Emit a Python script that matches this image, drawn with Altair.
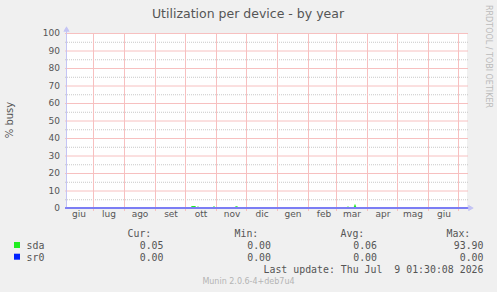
import altair as alt
import pandas as pd

# ---------------- data ----------------
title_text = "Utilization per device - by year"
y_title = "% busy"
watermark = "RRDTOOL / TOBI OETIKER"
version_text = "Munin 2.0.6-4+deb7u4"
last_update = "Last update:\u00a0Thu\u00a0Jul\u00a0\u00a09\u00a001:30:08\u00a02026"

x_start = (2025, 6, 4)
x_end = (2026, 7, 9)

month_names = ["giu", "lug", "ago", "set", "ott", "nov", "dic",
               "gen", "feb", "mar", "apr", "mag", "giu"]
month_label_dates = ["2025-06-16", "2025-07-16", "2025-08-16", "2025-09-16",
                     "2025-10-16", "2025-11-16", "2025-12-16", "2026-01-16",
                     "2026-02-16", "2026-03-16", "2026-04-16", "2026-05-16",
                     "2026-06-16"]
month_starts = ["2025-07-01", "2025-08-01", "2025-09-01", "2025-10-01",
                "2025-11-01", "2025-12-01", "2026-01-01", "2026-02-01",
                "2026-03-01", "2026-04-01", "2026-05-01", "2026-06-01",
                "2026-07-01"]
major_y = [0, 10, 20, 30, 40, 50, 60, 70, 80, 90, 100]
minor_y = [5, 15, 25, 35, 45, 55, 65, 75, 85, 95]

sda_dates = ["2025-06-04", "2025-10-06", "2025-10-07", "2025-10-10",
             "2025-10-11", "2025-10-12", "2025-10-13", "2025-10-14",
             "2025-10-28", "2025-10-29", "2025-10-30", "2025-11-19",
             "2025-11-20", "2025-11-21", "2025-11-22", "2026-03-11",
             "2026-03-12", "2026-03-13", "2026-03-18", "2026-03-19",
             "2026-03-20", "2026-07-09"]
sda_values = [0, 0, 0.8, 0.8, 0, 0, 0.5, 0, 0, 0.6, 0, 0, 0.6, 0.6, 0,
              0, 0.5, 0, 0, 1.5, 0, 0]
sr0_dates = ["2025-06-04", "2026-07-09"]
sr0_values = [0, 0]

series_names = ["sda", "sr0"]
series_colors = ["#22EE22", "#0022FF"]
cur_vals = [0.05, 0.00]
min_vals = [0.00, 0.00]
avg_vals = [0.06, 0.00]
max_vals = [93.90, 0.00]

# ---------------- styling ----------------
TXT = "#555555"
SANS = "DejaVu Sans"
MONO = "DejaVu Sans Mono"
RED = "#F7C0C0"
GREY = "#C8C8C8"
AXIS = "#C4C4F4"


def dt(t):
    return alt.DateTime(year=t[0], month=t[1], date=t[2], utc=True)


x_scale = alt.Scale(type="utc", domain=[dt(x_start), dt(x_end)])
y_scale = alt.Scale(domain=[0, 100], nice=False)

# grid
minor_df = pd.DataFrame({"v": minor_y})
major_df = pd.DataFrame({"v": major_y})
month_df0 = pd.DataFrame({"date": month_starts})

minor_grid = alt.Chart(minor_df).mark_rule(stroke=GREY, strokeWidth=1, yOffset=0.5,
                                           strokeDash=[1, 1], opacity=1).encode(
    y=alt.Y("v:Q", scale=y_scale, axis=None),
    x=alt.value(-2), x2=alt.value(401))
major_grid = alt.Chart(major_df).mark_rule(stroke=RED, strokeWidth=1, yOffset=0.5,
                                           opacity=1).encode(
    y=alt.Y("v:Q", scale=y_scale, axis=None),
    x=alt.value(-2), x2=alt.value(401))
vert_grid = alt.Chart(month_df0).mark_rule(stroke=RED, strokeWidth=1, xOffset=-0.5,
                                           opacity=1).encode(
    x=alt.X("date:T", scale=x_scale, axis=None),
    y=alt.value(0), y2=alt.value(178))

y_labels = alt.Chart(major_df).mark_text(
    font=SANS, fontSize=9, color=TXT, align="right", baseline="middle"
).encode(y=alt.Y("v:Q", scale=y_scale, axis=None), x=alt.value(-7),
         text="v:Q")

axis_line = alt.Chart(major_df).mark_rule(stroke=AXIS, strokeWidth=1).encode(
    x=alt.value(-0.5), y=alt.value(-3), y2=alt.value(175))

sda_df = pd.DataFrame({"date": sda_dates, "value": sda_values})
sr0_df = pd.DataFrame({"date": sr0_dates, "value": sr0_values})

sda_line = alt.Chart(sda_df).mark_line(color=series_colors[0], strokeWidth=1.2,
                                       interpolate="linear").encode(
    x=alt.X("date:T", scale=x_scale, axis=None),
    y=alt.Y("value:Q", scale=y_scale, axis=None),
)
sr0_line = alt.Chart(sr0_df).mark_line(color="#7C7CF6", strokeWidth=1.5).encode(
    x=alt.X("date:T", scale=x_scale, axis=None),
    y=alt.Y("value:Q", scale=y_scale, axis=None),
)
bottom_ext = alt.Chart(sr0_df).mark_rule(stroke="#7C7CF6", strokeWidth=1.5).encode(
    x=alt.value(-2), x2=alt.value(402), y=alt.value(175))

month_df = pd.DataFrame({"date": month_label_dates, "label": month_names})
month_text = alt.Chart(month_df).mark_text(
    font=SANS, fontSize=9, color=TXT, align="center", baseline="alphabetic"
).encode(x=alt.X("date:T", scale=x_scale, axis=None), y=alt.value(184),
         text="label:N")

arrow_up = alt.Chart(sr0_df).mark_point(shape="triangle-up", filled=True,
                                        color=AXIS, size=35, opacity=1).encode(
    x=alt.value(-0.5), y=alt.value(-4))
arrow_right = alt.Chart(sr0_df).mark_point(shape="triangle-right", filled=True,
                                           color=AXIS, size=35, opacity=1).encode(
    x=alt.value(404), y=alt.value(175))

texts_df = pd.DataFrame({"title": [title_text], "ytitle": [y_title],
                         "wm": [watermark], "ver": [version_text],
                         "upd": [last_update]})
title_mark = alt.Chart(texts_df).mark_text(
    font=SANS, fontSize=12.5, color=TXT, align="center", baseline="alphabetic"
).encode(x=alt.value(181), y=alt.value(-15), text="title:N")
ytitle_mark = alt.Chart(texts_df).mark_text(
    font=SANS, fontSize=10, color=TXT, align="center", baseline="middle", angle=270
).encode(x=alt.value(-57), y=alt.value(87), text="ytitle:N")
wm_mark = alt.Chart(texts_df).mark_text(
    font=SANS, fontSize=8, color="#BBBBBB", align="left", baseline="middle", angle=90
).encode(x=alt.value(421), y=alt.value(-28), text="wm:N")
ver_mark = alt.Chart(texts_df).mark_text(
    font=SANS, fontSize=8, color="#B4B4B4", align="center", baseline="alphabetic"
).encode(x=alt.value(181.5), y=alt.value(251), text="ver:N")
upd_mark = alt.Chart(texts_df).mark_text(
    font=MONO, fontSize=9.9, color=TXT, align="right", baseline="alphabetic"
).encode(x=alt.value(416.5), y=alt.value(240), text="upd:N")

# legend header
headers = ["Cur:", "Min:", "Avg:", "Max:"]
header_x = [60.5, 167.5, 273.5, 379.5]
header_layers = []
for h, hx in zip(headers, header_x):
    hdf = pd.DataFrame({"h": [h]})
    header_layers.append(alt.Chart(hdf).mark_text(
        font=MONO, fontSize=9.9, color=TXT, align="left", baseline="alphabetic"
    ).encode(x=alt.value(hx), y=alt.value(204), text="h:N"))

legend_layers = []
row_y = [216, 227.5]
sq_y = [212, 223.7]
val_x = [96.5, 204, 310, 416.5]
for i, name in enumerate(series_names):
    rdf = pd.DataFrame({"name": [name],
                        "cur": [f"{cur_vals[i]:.2f}"], "min": [f"{min_vals[i]:.2f}"],
                        "avg": [f"{avg_vals[i]:.2f}"], "max": [f"{max_vals[i]:.2f}"]})
    legend_layers.append(alt.Chart(rdf).mark_square(
        color=series_colors[i], size=36, opacity=1, strokeWidth=0
    ).encode(x=alt.value(-50), y=alt.value(sq_y[i])))
    legend_layers.append(alt.Chart(rdf).mark_text(
        font=MONO, fontSize=9.9, color=TXT, align="left", baseline="alphabetic"
    ).encode(x=alt.value(-40.5), y=alt.value(row_y[i]), text="name:N"))
    for col, vx in zip(["cur", "min", "avg", "max"], val_x):
        legend_layers.append(alt.Chart(rdf).mark_text(
            font=MONO, fontSize=9.9, color=TXT, align="right", baseline="alphabetic"
        ).encode(x=alt.value(vx), y=alt.value(row_y[i]), text=f"{col}:N"))

chart = alt.layer(
    minor_grid, major_grid, vert_grid, axis_line, y_labels,
    sda_line, bottom_ext, sr0_line, month_text,
    arrow_up, arrow_right,
    title_mark, ytitle_mark, wm_mark, ver_mark, upd_mark,
    *header_layers, *legend_layers
).properties(
    width=400, height=175,
    autosize=alt.AutoSizeParams(type="none"),
    padding={"left": 67, "top": 33, "right": 30, "bottom": 84},
    background="#F0F0F0",
).configure_view(fill="white", stroke=None)

chart.save("out.html", embed_options={"renderer": "svg", "actions": False})
